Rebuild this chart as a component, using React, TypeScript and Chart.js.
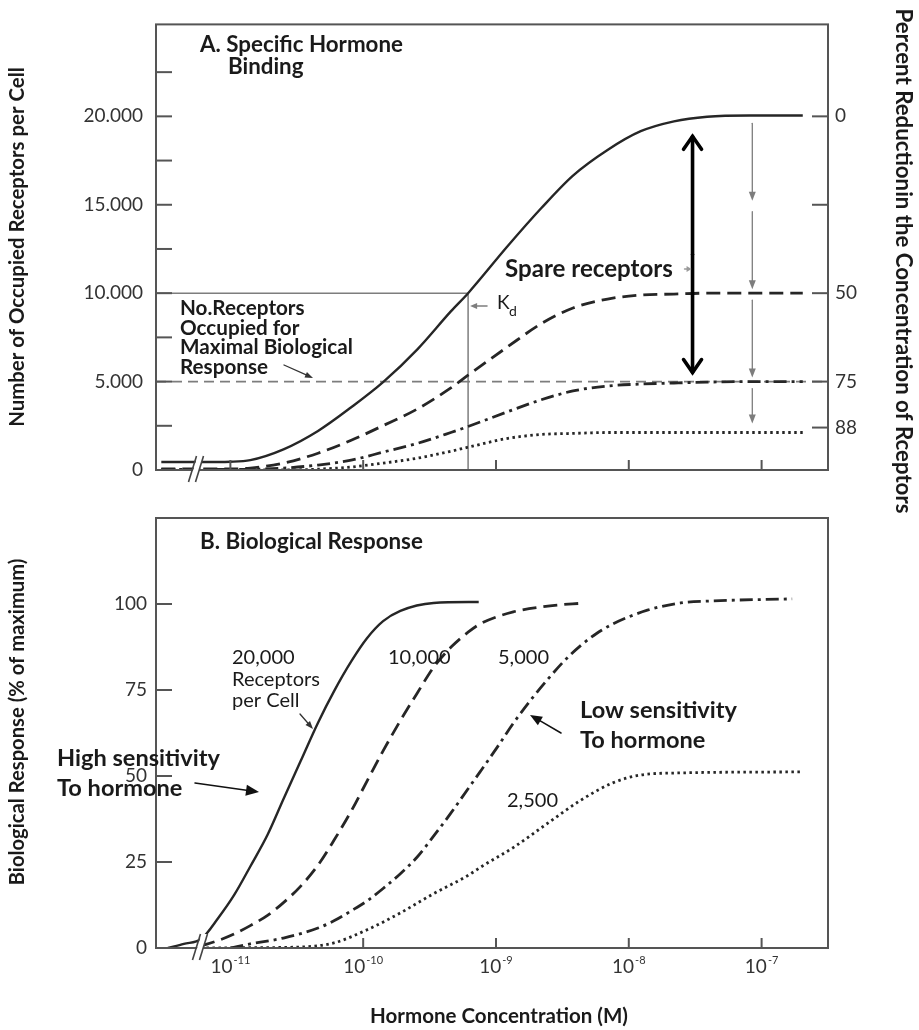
import { useEffect, useRef } from 'react';
import { Chart, registerables } from 'chart.js';

Chart.register(...registerables);

const FAMILY = 'Lato, "Open Sans", "DejaVu Sans", sans-serif';
const INK = '#262626';
const GUIDE = '#7d7d7d';
const FRAME = '#555555';

// Shared hormone-concentration axis, in log10(M)
const decadeExponents = [-11, -10, -9, -8, -7];
const axisMinExp = -11.56;
const axisMaxExp = -6.5;

// Panel A: specific hormone binding (occupied receptors per cell)
const bindingExponents = [-11.52, -11.22, -11.0, -10.85, -10.6, -10.34, -10.09, -9.85, -9.59, -9.34, -9.21, -8.91, -8.66, -8.42, -8.16, -7.91, -7.66, -7.41, -7.09, -6.69];
const bound20000 = [450, 450, 470, 560, 1170, 2210, 3550, 4970, 6840, 8970, 10000, 12680, 14800, 16650, 18100, 19160, 19720, 19980, 20050, 20050];
const bound10000 = [60, 60, 60, 110, 390, 950, 1680, 2510, 3460, 4640, 5360, 6980, 8270, 9160, 9670, 9890, 9950, 10000, 10000, 10000];
const bound5000 = [30, 30, 30, 40, 110, 280, 560, 1010, 1510, 2120, 2460, 3300, 3970, 4470, 4750, 4860, 4920, 4970, 5000, 5000];
const bound2500 = [0, 0, 0, 0, 0, 50, 170, 390, 670, 1060, 1290, 1790, 2010, 2070, 2120, 2120, 2120, 2120, 2120, 2120];

const bindingTicks = [0, 2500, 5000, 7500, 10000, 12500, 15000, 17500, 20000, 22500];
const bindingMax = 25200;
const reductionTicks = [0, 25, 50, 75, 88];
const kdExponent = -9.21;
const maximalResponseReceptors = 5000;
const halfSaturation = 10000;
const spareArrowExponent = -7.07;
const spareBracketExponent = -7.52;

// Panel B: biological response (% of maximum)
const resp20000X = [-11.47, -11.35, -11.22, -11.09, -10.97, -10.85, -10.72, -10.6, -10.47, -10.34, -10.22, -10.09, -9.97, -9.85, -9.72, -9.47, -9.13];
const resp20000Y = [0, 1.2, 2.6, 8.8, 15.5, 23.7, 32.9, 43.3, 54.4, 65.5, 74.6, 83.3, 90.1, 95.0, 98.0, 100.3, 100.6];
const resp10000X = [-11.22, -11.09, -10.97, -10.85, -10.72, -10.6, -10.47, -10.34, -10.22, -10.09, -9.97, -9.85, -9.72, -9.59, -9.47, -9.34, -9.21, -9.12, -8.87, -8.61, -8.33];
const resp10000Y = [0.6, 2.2, 4.1, 6.5, 9.5, 13.2, 18.0, 24.1, 31.3, 39.8, 48.6, 57.3, 66.1, 74.3, 81.6, 87.4, 91.8, 94.2, 97.7, 99.4, 100.3];
const resp5000X = [-11.0, -10.85, -10.6, -10.34, -10.22, -10.09, -9.97, -9.85, -9.72, -9.59, -9.47, -9.34, -9.21, -9.12, -8.99, -8.87, -8.74, -8.61, -8.49, -8.36, -8.24, -8.12, -7.86, -7.61, -7.36, -6.77];
const resp5000Y = [0, 1.2, 2.9, 5.8, 7.9, 10.8, 13.7, 17.3, 21.6, 26.6, 32.5, 39.2, 46.3, 51.2, 58.4, 65.3, 72.0, 78.1, 83.3, 88.0, 91.5, 94.2, 98.2, 100.3, 100.9, 101.5];
const resp2500X = [-11.18, -10.85, -10.47, -10.22, -9.97, -9.72, -9.47, -9.21, -9.12, -8.87, -8.61, -8.36, -8.12, -7.91, -7.61, -6.7];
const resp2500Y = [0, 0.1, 0.3, 1.5, 5.3, 10.2, 15.8, 21.1, 23.4, 29.2, 36.3, 43.0, 48.0, 50.3, 50.9, 51.2];

const responseTicks = [0, 25, 50, 75, 100];
const responseMax = 125;

const SOLID: number[] = [];
const LONG_DASH = [14, 7];
const DASH_DOT = [13, 5, 3, 5];
const DOTTED = [2.5, 3.5];

function curve(label: string, xs: number[], ys: number[], dash: number[], yAxisID = 'y') {
  return {
    label,
    data: xs.map((x, i) => ({ x, y: ys[i] })),
    borderColor: INK,
    borderWidth: dash.length ? 2.8 : 2.4,
    borderDash: dash,
    borderCapStyle: 'butt',
    pointRadius: 0,
    cubicInterpolationMode: 'monotone',
    fill: false,
    yAxisID,
  };
}

function thousands(v: number) {
  return v === 0 ? '0' : `${v / 1000}.000`;
}

// ---------- drawing helpers ----------
function fitSize(ctx: CanvasRenderingContext2D, text: string, weight: string, width: number) {
  ctx.font = `${weight} 100px ${FAMILY}`;
  return (100 * width) / ctx.measureText(text).width;
}

function label(ctx: CanvasRenderingContext2D, text: string, x: number, y: number, size: number, weight = 'normal', align: CanvasTextAlign = 'left', color = '#1a1a1a') {
  ctx.save();
  ctx.font = `${weight} ${size}px ${FAMILY}`;
  ctx.textAlign = align;
  ctx.textBaseline = 'middle';
  ctx.fillStyle = color;
  ctx.fillText(text, x, y);
  ctx.restore();
}

function rotatedTitle(ctx: CanvasRenderingContext2D, text: string, cx: number, cy: number, width: number, angle: number) {
  const size = fitSize(ctx, text, 'bold', width);
  ctx.save();
  ctx.translate(cx, cy);
  ctx.rotate(angle);
  label(ctx, text, 0, 0, size, 'bold', 'center');
  ctx.restore();
}

function arrow(ctx: CanvasRenderingContext2D, x1: number, y1: number, x2: number, y2: number, color: string, width: number, head: number, headW: number, open = false) {
  const a = Math.atan2(y2 - y1, x2 - x1);
  const c = Math.cos(a);
  const s = Math.sin(a);
  ctx.save();
  ctx.strokeStyle = color;
  ctx.fillStyle = color;
  ctx.lineWidth = width;
  ctx.lineCap = 'round';
  ctx.beginPath();
  ctx.moveTo(x1, y1);
  ctx.lineTo(open ? x2 : x2 - c * head * 0.7, open ? y2 : y2 - s * head * 0.7);
  ctx.stroke();
  const lx = x2 - head * c + headW * s;
  const ly = y2 - head * s - headW * c;
  const rx = x2 - head * c - headW * s;
  const ry = y2 - head * s + headW * c;
  ctx.beginPath();
  if (open) {
    ctx.lineJoin = 'miter';
    ctx.moveTo(lx, ly);
    ctx.lineTo(x2, y2);
    ctx.lineTo(rx, ry);
    ctx.stroke();
  } else {
    ctx.moveTo(x2, y2);
    ctx.lineTo(lx, ly);
    ctx.lineTo(rx, ry);
    ctx.closePath();
    ctx.fill();
  }
  ctx.restore();
}

function line(ctx: CanvasRenderingContext2D, x1: number, y1: number, x2: number, y2: number, color: string, width: number, dash: number[] = []) {
  ctx.save();
  ctx.strokeStyle = color;
  ctx.lineWidth = width;
  ctx.setLineDash(dash);
  ctx.beginPath();
  ctx.moveTo(x1, y1);
  ctx.lineTo(x2, y2);
  ctx.stroke();
  ctx.restore();
}

function frame(chart: any) {
  const { ctx, chartArea: a } = chart;
  ctx.save();
  ctx.strokeStyle = FRAME;
  ctx.lineWidth = 2;
  ctx.strokeRect(a.left, a.top, a.right - a.left, a.bottom - a.top);
  ctx.restore();
}

function axisBreak(chart: any, exp: number) {
  const { ctx, chartArea: a } = chart;
  const x = chart.scales.x.getPixelForValue(exp);
  const y = a.bottom;
  ctx.save();
  ctx.fillStyle = '#ffffff';
  ctx.beginPath();
  ctx.moveTo(x - 9, y + 12);
  ctx.lineTo(x - 1, y - 14);
  ctx.lineTo(x + 5, y - 14);
  ctx.lineTo(x - 3, y + 12);
  ctx.closePath();
  ctx.fill();
  ctx.restore();
  line(ctx, x - 10, y + 12, x - 2, y - 14, '#444', 1.6);
  line(ctx, x - 3, y + 12, x + 5, y - 14, '#444', 1.6);
}

function inwardTicks(chart: any, id: string, side: 'left' | 'right' | 'bottom', len: number, skip: number[] = []) {
  const { ctx, chartArea: a } = chart;
  const scale = chart.scales[id];
  for (const t of scale.ticks) {
    if (skip.includes(t.value)) continue;
    const p = scale.getPixelForValue(t.value);
    if (side === 'left') line(ctx, a.left, p, a.left + len, p, FRAME, 2);
    else if (side === 'right') line(ctx, a.right - len, p, a.right, p, FRAME, 2);
    else line(ctx, p, a.bottom, p, a.bottom - len, FRAME, 2);
  }
}

// ---------- panel A ----------
const bindingPanel = {
  id: 'bindingPanel',
  beforeDatasetsDraw(chart: any) {
    const { ctx, chartArea: a, scales } = chart;
    const kx = scales.x.getPixelForValue(kdExponent);
    const yHalf = scales.y.getPixelForValue(halfSaturation);
    const yMax = scales.y.getPixelForValue(maximalResponseReceptors);
    line(ctx, a.left, yHalf, kx, yHalf, GUIDE, 1.5);
    line(ctx, kx, yHalf, kx, a.bottom, GUIDE, 1.5);
    line(ctx, a.left, yMax, a.right, yMax, GUIDE, 1.6, [10, 6]);
  },
  afterDraw(chart: any) {
    const { ctx, scales } = chart;
    frame(chart);
    inwardTicks(chart, 'y', 'left', 16, [0]);
    inwardTicks(chart, 'y2', 'right', 16);
    inwardTicks(chart, 'x', 'bottom', 10);
    axisBreak(chart, -11.24);

    // reduction arrows between plateaus
    const sx = scales.x.getPixelForValue(spareArrowExponent);
    for (let i = 0; i < reductionTicks.length - 1; i++) {
      const y1 = scales.y2.getPixelForValue(reductionTicks[i]) + 7;
      const y2 = scales.y2.getPixelForValue(reductionTicks[i + 1]) - 4;
      arrow(ctx, sx, y1, sx, y2, GUIDE, 1.3, 9, 3.5);
    }

    // spare receptor bracket
    const bx = scales.x.getPixelForValue(spareBracketExponent);
    const top = scales.y.getPixelForValue(20000) + 20;
    const bottom = scales.y.getPixelForValue(maximalResponseReceptors) - 9;
    const mid = (top + bottom) / 2;
    arrow(ctx, bx, mid, bx, top, '#000', 3.6, 13, 9, true);
    arrow(ctx, bx, mid, bx, bottom, '#000', 3.6, 13, 9, true);

    // Kd marker
    const kx = scales.x.getPixelForValue(kdExponent);
    arrow(ctx, kx + 19, 306, kx + 2, 306, GUIDE, 1.3, 7, 3);
    label(ctx, 'K', kx + 29, 303, 19);
    label(ctx, 'd', kx + 41, 311, 14);

    // titles and annotations
    const ts = fitSize(ctx, 'A. Specific Hormone', 'bold', 203);
    label(ctx, 'A. Specific Hormone', 200, 45, ts, 'bold');
    label(ctx, 'Binding', 228, 67, ts, 'bold');

    const ns = fitSize(ctx, 'Maximal Biological', 'bold', 173);
    label(ctx, 'No.Receptors', 180, 308, ns, 'bold');
    label(ctx, 'Occupied for', 180, 328, ns, 'bold');
    label(ctx, 'Maximal Biological', 180, 347, ns, 'bold');
    label(ctx, 'Response', 180, 367, ns, 'bold');
    arrow(ctx, 284, 365, 313, 378, '#333', 1.3, 8, 3);

    const ss = fitSize(ctx, 'Spare receptors', 'bold', 168);
    label(ctx, 'Spare receptors', 505, 269, ss, 'bold');
    arrow(ctx, bx - 8, 269, bx - 1, 269, '#999', 1.5, 5, 3);

    rotatedTitle(ctx, 'Number of Occupied Receptors per Cell', 17, 247, 360, -Math.PI / 2);
    rotatedTitle(ctx, 'Percent Reductionin the Concentration of Rceptors', 903, 261, 505, Math.PI / 2);
  },
};

// ---------- panel B ----------
const responsePanel = {
  id: 'responsePanel',
  afterDraw(chart: any) {
    const { ctx, chartArea: a, scales } = chart;
    frame(chart);
    inwardTicks(chart, 'y', 'left', 16, [0]);
    inwardTicks(chart, 'x', 'bottom', 10, [-11]);
    axisBreak(chart, -11.21);

    // decade labels 10^n
    ctx.save();
    ctx.fillStyle = '#333';
    ctx.textBaseline = 'alphabetic';
    ctx.textAlign = 'left';
    for (const e of decadeExponents) {
      const px = scales.x.getPixelForValue(e);
      const exp = `-${Math.abs(e)}`;
      ctx.font = `19px ${FAMILY}`;
      const w1 = ctx.measureText('10').width;
      ctx.font = `11px ${FAMILY}`;
      const w2 = ctx.measureText(exp).width;
      const start = px - (w1 + w2 + 1) / 2;
      ctx.font = `19px ${FAMILY}`;
      ctx.fillText('10', start, a.bottom + 25);
      ctx.font = `11px ${FAMILY}`;
      ctx.fillText(exp, start + w1 + 1, a.bottom + 16);
    }
    ctx.restore();

    const ts = fitSize(ctx, 'B. Biological Response', 'bold', 223);
    label(ctx, 'B. Biological Response', 200, 52, ts, 'bold');

    const rs = fitSize(ctx, 'Receptors', 'normal', 88);
    label(ctx, '20,000', 232, 168, rs);
    label(ctx, 'Receptors', 232, 190, rs);
    label(ctx, 'per Cell', 232, 211, rs);
    arrow(ctx, 300, 224, 313, 239, '#333', 1.3, 8, 3);
    label(ctx, '10,000', 388, 168, rs);
    label(ctx, '5,000', 498, 168, rs);
    label(ctx, '2,500', 507, 311, rs);

    const hs = fitSize(ctx, 'High sensitivity', 'bold', 163);
    label(ctx, 'High sensitivity', 57, 268, hs, 'bold');
    label(ctx, 'To hormone', 57, 298, hs, 'bold');
    arrow(ctx, 195, 293, 259, 302, '#111', 1.5, 13, 5.5);

    const ls = fitSize(ctx, 'Low sensitivity', 'bold', 157);
    label(ctx, 'Low sensitivity', 580, 220, ls, 'bold');
    label(ctx, 'To hormone', 580, 250, ls, 'bold');
    arrow(ctx, 561, 243, 530, 225, '#111', 1.5, 12, 5);

    rotatedTitle(ctx, 'Biological Response (% of maximum)', 17, 232, 327, -Math.PI / 2);
    const xs = fitSize(ctx, 'Hormone Concentration (M)', 'bold', 258);
    label(ctx, 'Hormone Concentration (M)', 499, 526, xs, 'bold', 'center');
  },
};

const tickFont = { family: FAMILY, size: 19 };

function xScale(height: number) {
  return {
    type: 'linear',
    min: axisMinExp,
    max: axisMaxExp,
    grid: { display: false, drawTicks: false },
    border: { display: false },
    ticks: { display: false },
    afterBuildTicks: (s: any) => {
      s.ticks = decadeExponents.map((value) => ({ value }));
    },
    afterFit: (s: any) => {
      s.height = height;
    },
  };
}

export default function App() {
  const refA = useRef<HTMLCanvasElement>(null);
  const refB = useRef<HTMLCanvasElement>(null);

  useEffect(() => {
    const chartA = new Chart(refA.current as HTMLCanvasElement, {
      type: 'line',
      data: {
        datasets: [
          curve('20,000', bindingExponents, bound20000, SOLID),
          curve('10,000', bindingExponents, bound10000, LONG_DASH),
          curve('5,000', bindingExponents, bound5000, DASH_DOT),
          curve('2,500', bindingExponents, bound2500, DOTTED),
        ] as any,
      },
      options: {
        responsive: false,
        animation: false,
        devicePixelRatio: 1,
        layout: { padding: { top: 19, left: 0, right: 0, bottom: 0 } },
        plugins: { legend: { display: false }, tooltip: { enabled: false } },
        scales: {
          x: xScale(60),
          y: {
            type: 'linear',
            position: 'left',
            min: 0,
            max: bindingMax,
            grid: { display: false, drawTicks: false },
            border: { display: false },
            afterBuildTicks: (s: any) => {
              s.ticks = bindingTicks.map((value) => ({ value }));
            },
            ticks: {
              font: tickFont,
              color: '#333',
              padding: 13,
              callback: (v: any) => (v % 5000 === 0 ? thousands(v) : ''),
            },
            afterFit: (s: any) => {
              s.width = 156;
            },
          },
          y2: {
            type: 'linear',
            position: 'right',
            reverse: true,
            min: 100 - (bindingMax / 20000) * 100,
            max: 100,
            grid: { display: false, drawTicks: false },
            border: { display: false },
            afterBuildTicks: (s: any) => {
              s.ticks = reductionTicks.map((value) => ({ value }));
            },
            ticks: {
              font: tickFont,
              color: '#333',
              padding: 7,
              callback: (v: any) => (v === 25 ? '' : String(v)),
            },
            afterFit: (s: any) => {
              s.width = 91;
            },
          },
        } as any,
      },
      plugins: [bindingPanel],
    });

    const chartB = new Chart(refB.current as HTMLCanvasElement, {
      type: 'line',
      data: {
        datasets: [
          curve('20,000', resp20000X, resp20000Y, SOLID),
          curve('10,000', resp10000X, resp10000Y, LONG_DASH),
          curve('5,000', resp5000X, resp5000Y, DASH_DOT),
          curve('2,500', resp2500X, resp2500Y, DOTTED),
        ] as any,
      },
      options: {
        responsive: false,
        animation: false,
        devicePixelRatio: 1,
        layout: { padding: { top: 28, left: 0, right: 91, bottom: 0 } },
        plugins: { legend: { display: false }, tooltip: { enabled: false } },
        scales: {
          x: xScale(82),
          y: {
            type: 'linear',
            position: 'left',
            min: 0,
            max: responseMax,
            grid: { display: false, drawTicks: false },
            border: { display: false },
            afterBuildTicks: (s: any) => {
              s.ticks = responseTicks.map((value) => ({ value }));
            },
            ticks: { font: tickFont, color: '#333', padding: 9 },
            afterFit: (s: any) => {
              s.width = 156;
            },
          },
        } as any,
      },
      plugins: [responsePanel],
    });

    return () => {
      chartA.destroy();
      chartB.destroy();
    };
  }, []);

  return (
    <div style={{ position: 'absolute', left: 0, top: 0, width: 919, height: 1030, background: '#ffffff' }}>
      <canvas ref={refA} width={919} height={530} style={{ position: 'absolute', left: 0, top: 0 }} />
      <canvas ref={refB} width={919} height={540} style={{ position: 'absolute', left: 0, top: 490 }} />
    </div>
  );
}
